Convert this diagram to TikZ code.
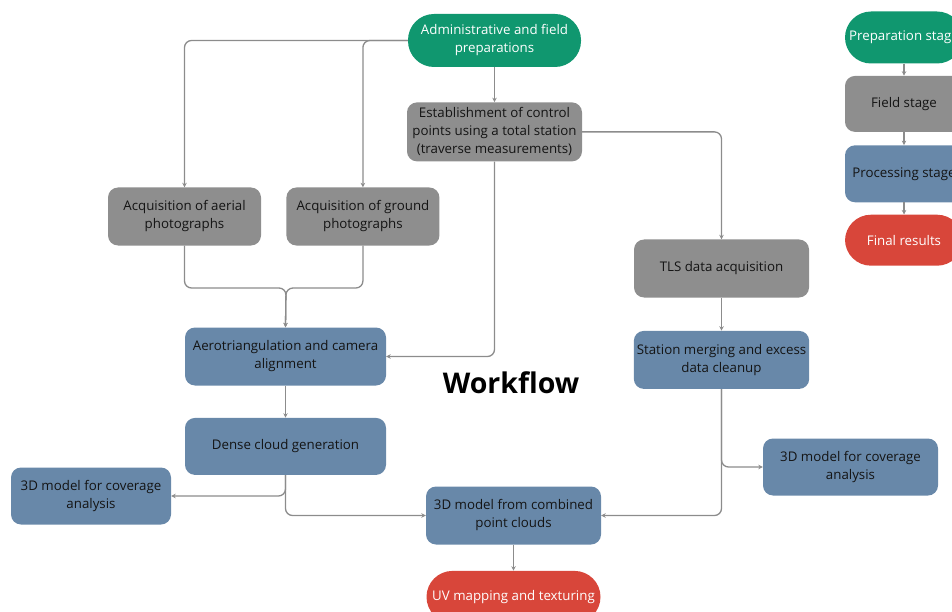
\documentclass[tikz,border=0pt]{standalone}
\usepackage{fontspec}
\setmainfont{Open Sans}
\usetikzlibrary{positioning,arrows.meta,calc}
\definecolor{wfGreen}{HTML}{10976F}
\definecolor{wfGray}{HTML}{8E8E8E}
\definecolor{wfBlue}{HTML}{6888A9}
\definecolor{wfRed}{HTML}{D8463A}
\definecolor{wfLine}{HTML}{8C8C8C}
\definecolor{wfText}{HTML}{141414}

\begin{document}
\begin{tikzpicture}[
  x=1pt, y=-1pt,
  every node/.style={font=\fontsize{13.3}{18}\selectfont},
  stage/.style={rectangle, rounded corners=10pt, align=center, inner sep=3pt,
                text=wfText},
  pill/.style={stage, rounded corners=26pt, text=white},
  conn/.style={-{Stealth[length=4.5pt,width=4.5pt]}, line width=1.3pt, wfLine,
               rounded corners=7pt}
]
  \useasboundingbox (0,0) rectangle (952,612);

  % preparation + field stage
  \node[pill, fill=wfGreen, minimum width=173pt, minimum height=53pt] (admin) at (494.5,40.5)
        {Administrative and field\\preparations};
  \node[stage, fill=wfGray, minimum width=175pt, minimum height=59pt, below=35pt of admin] (ctrl)
        {Establishment of control\\points using a total station\\(traverse measurements)};
  \node[stage, fill=wfGray, minimum width=153pt, minimum height=58pt] (aerial) at (184.5,216.5)
        {Acquisition of aerial\\photographs};
  \node[stage, fill=wfGray, minimum width=153pt, minimum height=58pt, right=25pt of aerial] (ground)
        {Acquisition of ground\\photographs};
  \node[stage, fill=wfGray, minimum width=175pt, minimum height=58pt] (tls) at (721.5,268.5)
        {TLS data acquisition};

  % processing stage
  \node[stage, fill=wfBlue, minimum width=201pt, minimum height=58pt] (aero) at (285.5,356.5)
        {Aerotriangulation and camera\\alignment};
  \node[stage, fill=wfBlue, minimum width=175pt, minimum height=58pt, below=33pt of tls] (merge)
        {Station merging and excess\\data cleanup};
  \node[stage, fill=wfBlue, minimum width=201pt, minimum height=57pt, below=32pt of aero] (dense)
        {Dense cloud generation};
  \node[stage, fill=wfBlue, minimum width=160pt, minimum height=57pt] (covL) at (91,496)
        {3D model for coverage\\analysis};
  \node[stage, fill=wfBlue, minimum width=175pt, minimum height=58pt] (combo) at (513.5,515.5)
        {3D model from combined\\point clouds};
  \node[stage, fill=wfBlue, minimum width=175pt, minimum height=57pt] (covR) at (850.5,467)
        {3D model for coverage\\analysis};

  % final results
  \node[pill, fill=wfRed, minimum width=174pt, minimum height=52pt, below=26pt of combo] (uv)
        {UV mapping and texturing};

  \node[font=\fontsize{28.5}{30}\selectfont\bfseries, text=black] (title) at (511,383) {Workflow};

  % legend
  \node[pill, fill=wfGreen, minimum width=118pt, minimum height=52pt] (lprep) at (904,37.5)
        {Preparation stage};
  \node[stage, fill=wfGray, minimum width=118pt, minimum height=56pt, below=12pt of lprep] (lfield)
        {Field stage};
  \node[stage, fill=wfBlue, minimum width=118pt, minimum height=57pt, below=13pt of lfield] (lproc)
        {Processing stage};
  \node[pill, fill=wfRed, minimum width=118pt, minimum height=51pt, below=12pt of lproc] (lfinal)
        {Final results};

  \coordinate (joinA) at (286,288);

  \draw[conn] (admin.west) -| (aerial.north);
  \draw[conn] (admin.west) -| (ground.north);
  \draw[conn] (admin) -- (ctrl);
  \draw[conn] (ctrl.east) -| (tls.north);
  \draw[conn] (ctrl.south) |- (aero.east);
  \draw[conn] (aerial.south) |- (joinA) -- (aero.north);
  \draw[conn] (ground.south) |- (joinA) -- (aero.north);
  \draw[conn] (tls) -- (merge);
  \draw[conn] (aero) -- (dense);
  \draw[conn] (dense.south) |- (covL.east);
  \draw[conn] (dense.south) |- (combo.west);
  \draw[conn] (merge.south) |- (covR.west);
  \draw[conn] (merge.south) |- (combo.east);
  \draw[conn] (combo) -- (uv);
  \draw[conn] (lprep) -- (lfield);
  \draw[conn] (lfield) -- (lproc);
  \draw[conn] (lproc) -- (lfinal);
\end{tikzpicture}
\end{document}
